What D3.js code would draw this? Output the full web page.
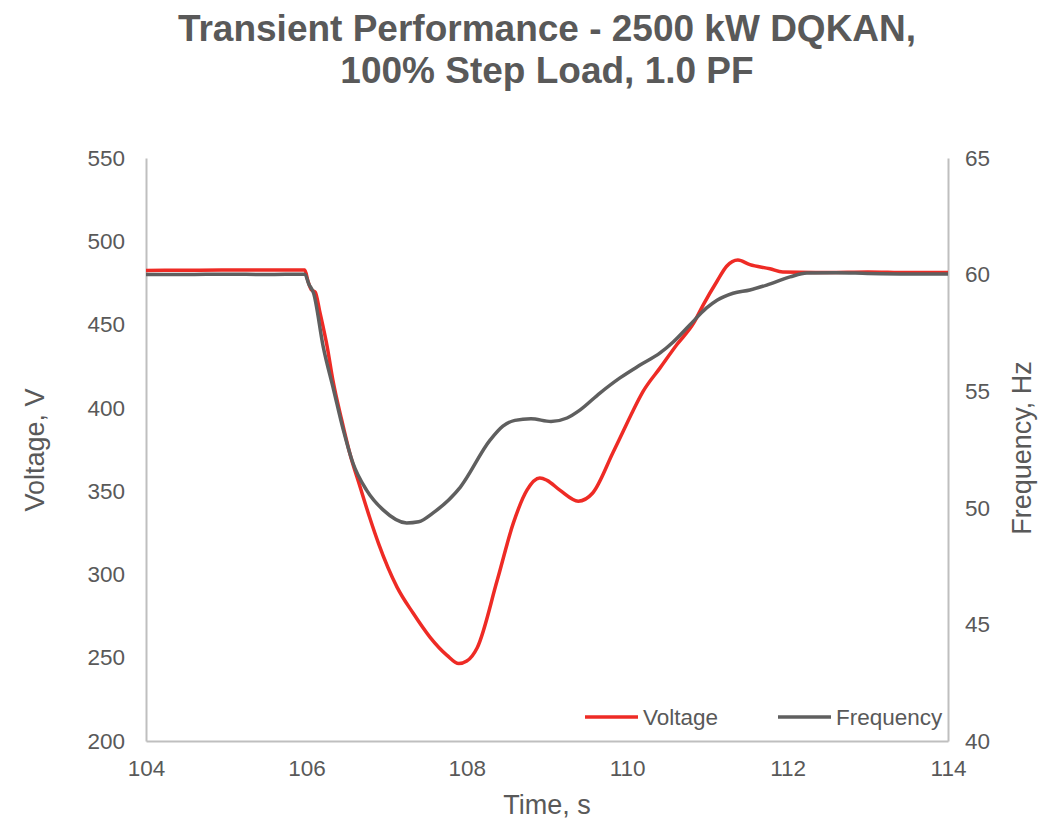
<!DOCTYPE html>
<html>
<head>
<meta charset="utf-8">
<script src="https://cdn.jsdelivr.net/npm/d3@7"></script>
<style>
    body { margin: 0; background: #fff; }
    svg text { font-family: 'Liberation Sans', Arial, sans-serif; fill: #595959; }
</style>
</head>
<body>
<svg id="chart" width="1050" height="821"></svg>
<script>
// time (s) and voltage (V)
const voltTime = [104, 104.5, 105, 105.5, 105.98, 106.02, 106.06, 106.11, 106.17, 106.26, 106.33, 106.44, 106.54, 106.67, 106.79, 106.9, 107.13, 107.33, 107.54, 107.75, 107.9, 108.0, 108.13, 108.38, 108.58, 108.75, 108.91, 109.0, 109.16, 109.39, 109.57, 109.82, 109.95, 110.07, 110.2, 110.41, 110.62, 110.83, 110.95, 111.12, 111.24, 111.38, 111.53, 111.78, 111.94, 112.5, 113, 113.5, 114];
const voltage = [482.5, 482.6, 482.8, 482.7, 482.8, 476, 471, 469.5, 457, 436.5, 416.7, 392.7, 372.9, 352.5, 334, 318.5, 292.4, 276.8, 262.4, 251.6, 246.5, 248, 256, 296.6, 330.8, 350.6, 357.9, 356.5, 350.6, 344, 348.9, 372.9, 386, 398, 410, 424, 438, 451, 462, 476, 485, 488.7, 486, 483.5, 481.5, 481.3, 481.6, 481.2, 481.3];

// time (s) and frequency (Hz)
const freqTime = [104, 104.5, 105, 105.5, 105.98, 106.03, 106.09, 106.21, 106.34, 106.46, 106.58, 106.75, 106.96, 107.25, 107.4, 107.58, 107.92, 108.29, 108.45, 108.6, 108.8, 109.05, 109.25, 109.41, 109.66, 109.91, 110.16, 110.41, 110.57, 110.78, 110.99, 111.12, 111.32, 111.53, 111.74, 112.03, 112.24, 112.6, 113, 113.5, 114];
const frequency = [60.0, 60.0, 60.02, 60.0, 60.02, 59.6, 59.2, 56.9, 55.05, 53.34, 51.92, 50.76, 49.9, 49.35, 49.4, 49.78, 50.89, 52.9, 53.5, 53.75, 53.82, 53.7, 53.85, 54.19, 54.92, 55.57, 56.12, 56.64, 57.1, 57.84, 58.57, 58.9, 59.2, 59.34, 59.55, 59.9, 60.07, 60.08, 60.05, 60.03, 60.03];

const xTicks = [104, 106, 108, 110, 112, 114];
const voltTicks = [200, 250, 300, 350, 400, 450, 500, 550];
const freqTicks = [40, 45, 50, 55, 60, 65];

const seriesNames = ['Voltage', 'Frequency'];
const seriesColors = ['#ee2b25', '#5f5f5f'];

const margin = { left: 146, right: 102, top: 158, bottom: 80 };
const width = 1050, height = 821;

const svg = d3.select('#chart');

const x = d3.scaleLinear().domain([104, 114]).range([margin.left, width - margin.right]);
const yV = d3.scaleLinear().domain([200, 550]).range([height - margin.bottom, margin.top]);
const yF = d3.scaleLinear().domain([40, 65]).range([height - margin.bottom, margin.top]);

// axes - no tick marks, light grey domain line
const xAxis = svg.append('g')
    .attr('transform', `translate(0,${height - margin.bottom})`)
    .call(d3.axisBottom(x).tickValues(xTicks).tickSize(0).tickPadding(19).tickFormat(d3.format('d')));

const yAxisL = svg.append('g')
    .attr('transform', `translate(${margin.left},0)`)
    .call(d3.axisLeft(yV).tickValues(voltTicks).tickSize(0).tickPadding(21));

const yAxisR = svg.append('g')
    .attr('transform', `translate(${width - margin.right},0)`)
    .call(d3.axisRight(yF).tickValues(freqTicks).tickSize(0).tickPadding(17));

[xAxis, yAxisL, yAxisR].forEach(a => {
    a.select('.domain').attr('stroke', '#bfbfbf').attr('stroke-width', 2);
    a.selectAll('.tick text').attr('font-size', 22.5).style('fill', '#595959');
});

const line = (xs, ys, yScale) => d3.line()
    .x((d, i) => x(xs[i]))
    .y((d, i) => yScale(ys[i]))
    .curve(d3.curveMonotoneX)(ys);

// Excel draws voltage first, frequency over it
svg.append('path')
    .attr('d', line(voltTime, voltage, yV))
    .attr('fill', 'none')
    .attr('stroke', seriesColors[0])
    .attr('stroke-width', 3.5);

svg.append('path')
    .attr('d', line(freqTime, frequency, yF))
    .attr('fill', 'none')
    .attr('stroke', seriesColors[1])
    .attr('stroke-width', 3.5);

// titles
const title = svg.append('text')
    .attr('text-anchor', 'middle')
    .attr('font-size', 37)
    .attr('font-weight', 'bold');
title.append('tspan').attr('x', 547).attr('y', 41).text('Transient Performance - 2500 kW DQKAN,');
title.append('tspan').attr('x', 547).attr('y', 83).text('100% Step Load, 1.0 PF');

svg.append('text')
    .attr('x', 547).attr('y', 814)
    .attr('text-anchor', 'middle')
    .attr('font-size', 27)
    .text('Time, s');

svg.append('text')
    .attr('transform', 'translate(44,450) rotate(-90)')
    .attr('text-anchor', 'middle')
    .attr('font-size', 27)
    .text('Voltage, V');

svg.append('text')
    .attr('transform', 'translate(1031,448) rotate(-90)')
    .attr('text-anchor', 'middle')
    .attr('font-size', 27)
    .text('Frequency, Hz');

// legend
const legendPos = [585, 778];
const legend = svg.append('g').selectAll('g')
    .data(seriesNames)
    .join('g')
    .attr('transform', (d, i) => `translate(${legendPos[i]},717)`);

legend.append('line')
    .attr('x1', 0).attr('x2', 53)
    .attr('stroke', (d, i) => seriesColors[i])
    .attr('stroke-width', 3.5);

legend.append('text')
    .attr('x', 58).attr('y', 8)
    .attr('font-size', 22.5)
    .text(d => d);
</script>
</body>
</html>
